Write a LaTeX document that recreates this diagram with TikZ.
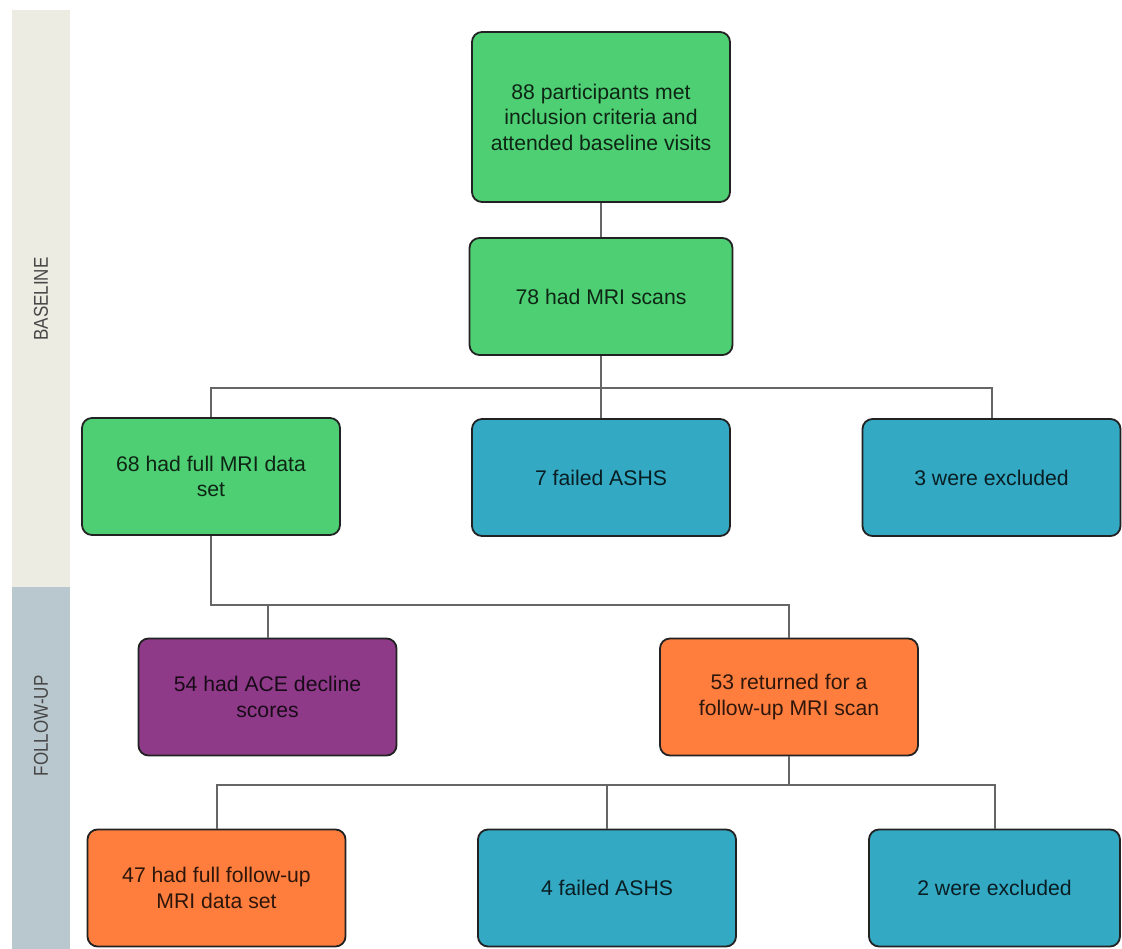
\documentclass[tikz,border=0pt]{standalone}
\usepackage{fontspec}
\setmainfont{Liberation Sans}
\definecolor{boxgreen}{HTML}{4ECF74}
\definecolor{boxblue}{HTML}{33A9C4}
\definecolor{boxpurple}{HTML}{8E3A89}
\definecolor{boxorange}{HTML}{FF7E3E}
\definecolor{barbase}{HTML}{ECECE3}
\definecolor{barfollow}{HTML}{B9C8CE}
\definecolor{linegray}{HTML}{666666}
\definecolor{edgedark}{HTML}{222222}
\definecolor{sidetext}{HTML}{474747}
\begin{document}
\begin{tikzpicture}[x=1pt,y=-1pt,
  flowbox/.style={draw=edgedark, line width=1.8pt, rounded corners=10pt,
    minimum width=258pt, minimum height=117pt, align=center,
    font=\fontsize{21.2}{25.5}\selectfont, text=black, text opacity=0.82, inner sep=4pt},
  greenbox/.style={flowbox, fill=boxgreen},
  bluebox/.style={flowbox, fill=boxblue},
  purplebox/.style={flowbox, fill=boxpurple},
  orangebox/.style={flowbox, fill=boxorange},
  conn/.style={draw=linegray, line width=2pt},
  sidelabel/.style={rotate=90, text=sidetext, font=\fontsize{20}{22}\selectfont}
]
\useasboundingbox (0,0) rectangle (1122,949);
\fill[white] (0,0) rectangle (1122,949);
% side bars
\fill[barbase] (12,10) rectangle (70,587);
\fill[barfollow] (12,587) rectangle (70,949);
\node[sidelabel] (lbase) at (41,299) {\scalebox{0.85}[1]{BASELINE}};
\node[sidelabel] (lfollow) at (41,726) {\scalebox{0.85}[1]{FOLLOW-UP}};
% boxes
\node[greenbox, minimum height=170pt] (A) at (601,117) {88 participants met\\inclusion criteria and\\attended baseline visits};
\node[greenbox, minimum width=263pt] (B) at (601,296.5) {78 had MRI scans};
\node[greenbox] (C) at (211,476.5) {68 had full MRI data\\set};
\node[bluebox] (D) at (601,477.5) {7 failed ASHS};
\node[bluebox] (E) at (991.5,477.5) {3 were excluded};
\node[purplebox] (F) at (267.5,697) {54 had ACE decline\\scores};
\node[orangebox] (G) at (789,697) {53 returned for a\\follow-up MRI scan};
\node[orangebox] (H) at (216.5,888) {47 had full follow-up\\MRI data set};
\node[bluebox] (I) at (607,888) {4 failed ASHS};
\node[bluebox, minimum width=251pt] (J) at (994.5,888) {2 were excluded};
% junctions
\coordinate (j1) at (601,388);
\coordinate (j2) at (211,605);
\coordinate (j3) at (789,785);
% connectors
\draw[conn] (A.south) -- (B.north);
\draw[conn] (B.south) -- (j1);
\draw[conn] (C.north) |- (j1) -| (E.north);
\draw[conn] (j1) -- (D.north);
\draw[conn] (C.south) -- (j2) -| (G.north);
\draw[conn] (F.north) -- (F.north |- j2);
\draw[conn] (G.south) -- (j3);
\draw[conn] (H.north) |- (j3) -| (J.north);
\draw[conn] (I.north) -- (I.north |- j3);
\end{tikzpicture}
\end{document}
